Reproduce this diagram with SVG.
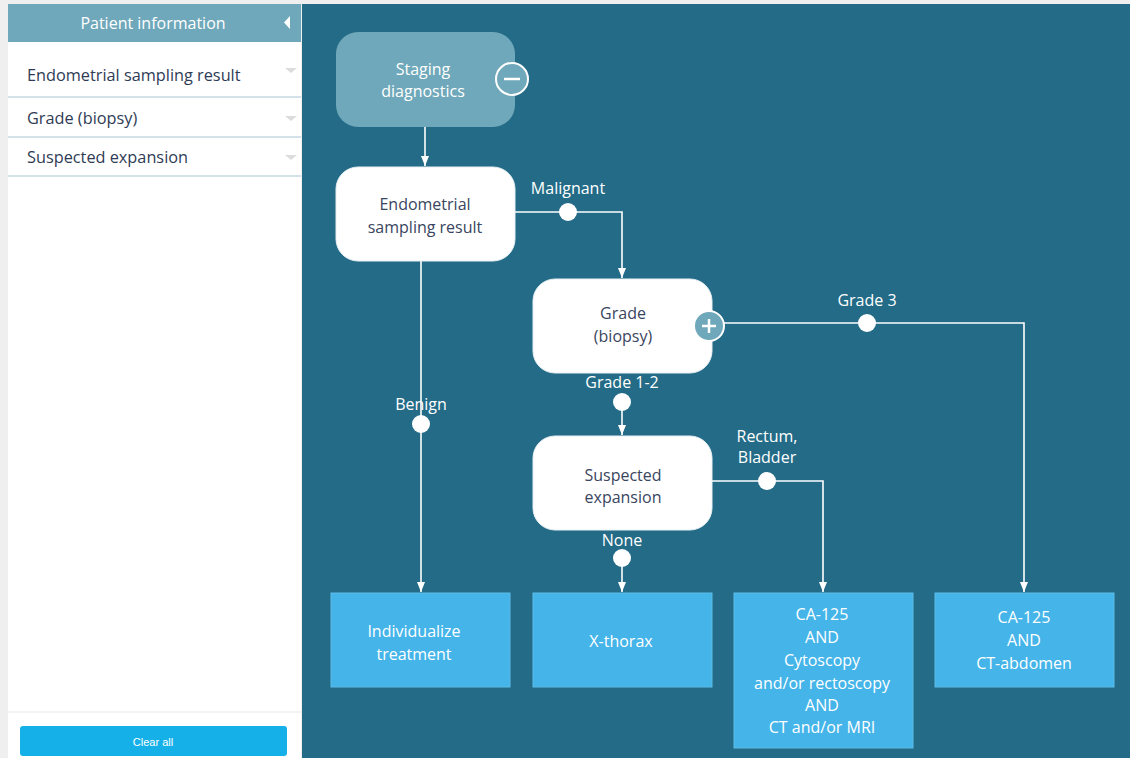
<svg xmlns="http://www.w3.org/2000/svg" width="1130" height="758" viewBox="0 0 1130 758">
<style>
text{font-family:"Open Sans","Noto Sans","Liberation Sans",sans-serif;font-size:16px}
.side{fill:#2f3b55;font-size:16.3px}
.dark{fill:#3a4560;text-anchor:middle}
.light{fill:#ffffff;text-anchor:middle}
.white{fill:#ffffff;stroke:#e8f0f3;stroke-width:1}
.leaf{fill:#44b4e9;stroke:#5dbde9;stroke-width:1}
.line{fill:none;stroke:#ffffff;stroke-width:1.6}
.dot{fill:#ffffff}
.sep{stroke:#d3e2e9;stroke-width:2}
.caret{fill:#dcdcdc}
</style>
<defs>
<marker id="arr" viewBox="0 0 10 8" refX="10" refY="4" markerWidth="10" markerHeight="8" orient="auto" markerUnits="userSpaceOnUse">
<path d="M0,0 L10,4 L0,8 z" fill="#ffffff"/>
</marker>
</defs>
<rect x="0" y="0" width="1130" height="758" fill="#efefef"/>
<rect x="302" y="4" width="828" height="754" fill="#236b87"/>
<g id="sidebar">
<rect x="8" y="4" width="293" height="754" fill="#ffffff"/>
<rect x="8" y="4" width="293" height="38" fill="#6fa8ba"/>
<text x="153" y="29" class="light">Patient information</text>
<path d="M290,16 L284,22.5 L290,29 z" fill="#ffffff"/>
<text x="27" y="81" class="side">Endometrial sampling result</text>
<path d="M285,68 L297,68 L291,73 z" class="caret"/>
<line x1="8" y1="97" x2="301" y2="97" class="sep"/>
<text x="27" y="124" class="side">Grade (biopsy)</text>
<path d="M285,116 L297,116 L291,121 z" class="caret"/>
<line x1="8" y1="137" x2="301" y2="137" class="sep"/>
<text x="27" y="163" class="side">Suspected expansion</text>
<path d="M285,155 L297,155 L291,160 z" class="caret"/>
<line x1="8" y1="176" x2="301" y2="176" class="sep"/>
<line x1="8" y1="712" x2="301" y2="712" stroke="#efefef" stroke-width="1.5"/>
<rect x="20" y="726" width="267" height="30" rx="3" fill="#16b0e8"/>
<text x="153" y="746" class="light" style="font-family:'Liberation Sans',Arial,sans-serif;font-size:11px">Clear all</text>
</g>
<g id="connectors">
<line x1="425" y1="127" x2="425" y2="166" class="line" marker-end="url(#arr)"/>
<polyline points="515,212 622,212 622,278" class="line" marker-end="url(#arr)"/>
<circle cx="568" cy="212" r="9" class="dot"/>
<text x="568" y="194" class="light">Malignant</text>
<line x1="421" y1="261" x2="421" y2="592" class="line" marker-end="url(#arr)"/>
<circle cx="421" cy="424" r="9" class="dot"/>
<text x="421" y="410" class="light">Benign</text>
<line x1="622" y1="402" x2="622" y2="435" class="line" marker-end="url(#arr)"/>
<circle cx="622" cy="402" r="9" class="dot"/>
<text x="622" y="388" class="light">Grade 1-2</text>
<polyline points="724,323 1024,323 1024,592" class="line" marker-end="url(#arr)"/>
<circle cx="867" cy="323" r="9" class="dot"/>
<text x="867" y="306" class="light">Grade 3</text>
<polyline points="712,481 823,481 823,592" class="line" marker-end="url(#arr)"/>
<circle cx="767" cy="481" r="9" class="dot"/>
<text x="767" y="442" class="light">Rectum,</text>
<text x="767" y="463" class="light">Bladder</text>
<line x1="622" y1="558" x2="622" y2="592" class="line" marker-end="url(#arr)"/>
<circle cx="622" cy="558" r="9" class="dot"/>
<text x="622" y="546" class="light">None</text>
</g>
<g id="staging">
<rect x="336" y="32" width="179" height="95" rx="22" fill="#6fa8ba"/>
<text x="423" y="75" class="light">Staging</text>
<text x="423" y="97" class="light">diagnostics</text>
<circle cx="512" cy="79" r="16" fill="#6fa8ba" stroke="#ffffff" stroke-width="2"/>
<line x1="504" y1="79" x2="520" y2="79" stroke="#ffffff" stroke-width="2.5"/>
</g>
<g id="endometrial">
<rect x="336" y="167" width="179" height="94" rx="22" class="white"/>
<text x="425" y="210" class="dark">Endometrial</text>
<text x="425" y="233" class="dark">sampling result</text>
</g>
<g id="grade">
<rect x="533" y="279" width="179" height="94" rx="22" class="white"/>
<text x="623" y="319" class="dark">Grade</text>
<text x="623" y="342" class="dark">(biopsy)</text>
<circle cx="709" cy="326" r="15" fill="#6fa8ba" stroke="#ffffff" stroke-width="2"/>
<line x1="702" y1="326" x2="716" y2="326" stroke="#ffffff" stroke-width="2.5"/>
<line x1="709" y1="319" x2="709" y2="333" stroke="#ffffff" stroke-width="2.5"/>
</g>
<g id="suspected">
<rect x="533" y="436" width="179" height="94" rx="22" class="white"/>
<text x="623" y="481" class="dark">Suspected</text>
<text x="623" y="503" class="dark">expansion</text>
</g>
<g id="individualize">
<rect x="331" y="593" width="179" height="94" class="leaf"/>
<text x="414" y="637" class="light">Individualize</text>
<text x="414" y="660" class="light">treatment</text>
</g>
<g id="xthorax">
<rect x="533" y="593" width="179" height="94" class="leaf"/>
<text x="621" y="647" class="light">X-thorax</text>
</g>
<g id="ca125a">
<rect x="734" y="593" width="179" height="155" class="leaf"/>
<text x="822" y="620" class="light">CA-125</text>
<text x="822" y="643" class="light">AND</text>
<text x="822" y="666" class="light">Cytoscopy</text>
<text x="822" y="689" class="light">and/or rectoscopy</text>
<text x="822" y="711" class="light">AND</text>
<text x="822" y="733" class="light">CT and/or MRI</text>
</g>
<g id="ca125b">
<rect x="935" y="593" width="179" height="94" class="leaf"/>
<text x="1024" y="623" class="light">CA-125</text>
<text x="1024" y="646" class="light">AND</text>
<text x="1024" y="669" class="light">CT-abdomen</text>
</g>
</svg>
